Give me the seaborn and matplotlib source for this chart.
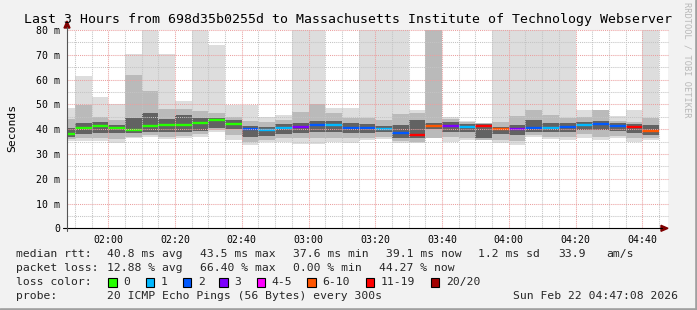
import numpy as np
import matplotlib
matplotlib.use("Agg")
import matplotlib.pyplot as plt
import seaborn as sns
from matplotlib.patches import Rectangle, Polygon
from matplotlib.lines import Line2D

# ---------------- data ----------------
bar_start_min = 105          # first 5-minute bar starts 01:45 (minutes after midnight)
bar_minutes = 5

median_ms = [38.2, 40.5, 41.4, 40.6, 39.8, 41.3, 41.7, 41.7, 42.3, 43.5,
             42.1, 40.1, 39.8, 40.6, 40.9, 41.7, 41.7, 40.6, 40.6, 40.2,
             38.6, 37.6, 41.4, 41.4, 41.0, 41.4, 40.2, 40.2, 40.6, 40.6,
             40.9, 41.8, 42.2, 41.4, 40.9, 39.1]

loss_class = ["0", "0", "0", "0", "0", "0", "0", "0", "0", "0",
              "0", "2", "1", "1", "3", "2", "1", "2", "2", "1",
              "2", "11-19", "6-10", "3", "1", "11-19", "6-10", "3", "2", "1",
              "2", "1", "2", "2", "11-19", "6-10"]

ping_max = [48.4, 61.4, 52.9, 50.0, 70.2, 80.0, 70.2, 51.3, 80.0, 73.9,
            49.7, 49.7, 44.9, 45.7, 80.0, 80.0, 48.4, 48.7, 80.0, 80.0,
            80.0, 47.7, 80.0, 45.0, 43.4, 42.6, 80.0, 80.0, 80.0, 80.0,
            80.0, 47.7, 47.7, 45.3, 47.7, 80.0]
ping_hi_mid = [44.0, 49.7, 45.0, 43.5, 62.0, 55.4, 48.0, 48.0, 47.3, 46.7,
               45.0, 43.3, 43.0, 43.7, 47.0, 50.0, 46.4, 44.6, 44.4, 43.7,
               46.0, 46.5, 80.0, 44.0, 42.8, 42.3, 43.0, 45.4, 47.7, 45.7,
               44.4, 45.0, 47.7, 43.3, 43.0, 44.6]
ping_hi_core = [40.3, 42.5, 42.8, 41.8, 44.4, 46.4, 44.0, 45.7, 44.4, 44.5,
                43.7, 41.4, 41.0, 41.9, 42.3, 43.3, 43.3, 42.3, 41.9, 41.4,
                41.7, 43.7, 42.3, 42.7, 41.9, 41.9, 41.0, 41.7, 43.7, 42.3,
                42.3, 43.0, 43.3, 42.3, 41.9, 41.7]
ping_lo_core = [37.0, 38.0, 38.5, 38.5, 38.3, 38.8, 38.7, 39.0, 39.2, 40.5,
                39.9, 37.0, 37.4, 37.9, 38.3, 39.0, 38.7, 38.3, 38.3, 38.7,
                36.6, 36.6, 39.9, 39.0, 38.7, 36.6, 37.9, 37.6, 39.0, 38.7,
                39.0, 39.7, 39.7, 39.2, 38.3, 37.6]
ping_lo_mid = [36.0, 36.6, 36.5, 36.0, 37.0, 37.8, 37.0, 37.3, 38.0, 39.5,
               37.6, 35.0, 35.6, 36.3, 36.3, 36.6, 36.6, 36.6, 36.6, 37.0,
               35.2, 35.0, 36.3, 37.0, 36.6, 35.6, 35.6, 35.2, 37.6, 37.0,
               37.0, 37.9, 37.0, 37.4, 36.6, 36.6]
ping_min = [35.2, 35.2, 35.2, 34.5, 36.3, 37.0, 35.9, 36.5, 37.0, 38.7,
            35.6, 33.6, 35.0, 35.0, 33.9, 33.9, 35.0, 34.3, 35.6, 35.9,
            34.5, 34.5, 36.3, 35.0, 35.6, 35.6, 34.3, 33.6, 37.0, 36.0,
            35.6, 36.3, 35.6, 36.3, 35.0, 35.6]

loss_labels = ["0", "1", "2", "3", "4-5", "6-10", "11-19", "20/20"]
loss_colors = ["#26ff00", "#00b8ff", "#0059ff", "#7e00ff", "#ff00ff",
               "#ff5500", "#ff0000", "#a10000"]

x_tick_minutes = [120, 140, 160, 180, 200, 220, 240, 260, 280]
x_tick_labels = ["02:00", "02:20", "02:40", "03:00", "03:20", "03:40",
                 "04:00", "04:20", "04:40"]
y_ticks = [0, 10, 20, 30, 40, 50, 60, 70, 80]
y_tick_labels = ["0", "10 m", "20 m", "30 m", "40 m", "50 m", "60 m",
                 "70 m", "80 m"]

title = "Last 3 Hours from 698d35b0255d to Massachusetts Institute of Technology Webserver"
rtt_stats = ["40.8 ms avg", "43.5 ms max", "37.6 ms min", "39.1 ms now",
             "1.2 ms sd", "33.9", "am/s"]
loss_stats = ["12.88 % avg", "66.40 % max", "0.00 % min", "44.27 % now"]
probe_text = "20 ICMP Echo Pings (56 Bytes) every 300s"
stamp_text = "Sun Feb 22 04:47:08 2026"

# ---------------- style ----------------
W, H = 697, 310
sns.set_theme(style="white")
plt.rcParams['font.family'] = ['DejaVu Sans Mono', 'DejaVu Sans']
plt.rcParams['lines.scale_dashes'] = False

fig = plt.figure(figsize=(W / 100, H / 100), dpi=100, facecolor="#f2f2f2")


def fx(x):
    return x / W


def fy(y):
    return 1 - y / H


ax_left, ax_right, ax_top, ax_bot = 67, 668, 30, 228.3
ax = fig.add_axes([fx(ax_left), fy(ax_bot), (ax_right - ax_left) / W,
                   (ax_bot - ax_top) / H])
ax.set_facecolor("white")
ax.set_xlim(107.63, 287.7)
ax.set_ylim(0, 80)

edges = bar_start_min + bar_minutes * np.arange(len(median_ms) + 1)


def stepy(a):
    a = np.asarray(a, dtype=float)
    return np.append(a, a[-1])


layers = [(ping_min, ping_max, "#dddddd"),
          (ping_lo_mid, ping_hi_mid, "#bababa"),
          (ping_lo_core, ping_hi_core, "#626262")]
for lo, hi, col in layers:
    ax.fill_between(edges, stepy(lo), stepy(hi), step="post", color=col,
                    lw=0, zorder=1, antialiased=False)

cmap = dict(zip(loss_labels, loss_colors))
ax.hlines(median_ms, edges[:-1], edges[1:],
          colors=[cmap[c] for c in loss_class], lw=1.7, zorder=3,
          capstyle="butt")

# grid (drawn above the smoke, as rrdtool does)
dot = (0, (0.75, 0.75))
for m in range(110, 290, 5):
    major = m in x_tick_minutes
    ax.axvline(m, color="#eba0a0" if major else "#c4c4c4", lw=0.75,
               ls=dot, zorder=4)
for v in range(5, 81, 5):
    major = v % 10 == 0
    ax.axhline(v, color="#eba0a0" if major else "#c4c4c4", lw=0.75,
               ls=dot, zorder=4, clip_on=False)

for s in ax.spines.values():
    s.set_visible(False)

ax.set_xticks(x_tick_minutes)
ax.set_xticklabels(x_tick_labels)
ax.set_yticks(y_ticks)
ax.set_yticklabels(y_tick_labels)
ax.tick_params(axis="both", which="both", labelsize=7.1, colors="#000000",
               length=2.5, width=0.7, direction="out", pad=2.6)
ax.tick_params(axis="x", pad=2.0)
ax.grid(False)

# axis lines with arrows
fig.add_artist(Line2D([fx(62.7), fx(662)], [fy(228.3), fy(228.3)],
                      color="black", lw=0.8, transform=fig.transFigure))
fig.add_artist(Line2D([fx(67), fx(67)], [fy(231), fy(27)],
                      color="#555555", lw=0.8, transform=fig.transFigure))
fig.add_artist(Polygon([(fx(661), fy(225.3)), (fx(668), fy(228.3)),
                        (fx(661), fy(231.3))], closed=True,
                       color="#7f0000", transform=fig.transFigure))
fig.add_artist(Polygon([(fx(64), fy(28)), (fx(67), fy(21)),
                        (fx(70), fy(28))], closed=True,
                       color="#7f0000", transform=fig.transFigure))

# titles
fig.text(fx(348.5), fy(19.3), title, ha="center", va="center",
         fontsize=9.55, color="black")
fig.text(fx(12), fy(128), "Seconds", rotation=90, ha="center",
         va="center", fontsize=8.2, color="black")
fig.text(fx(687.5), fy(60), "RRDTOOL / TOBI OETIKER", rotation=270,
         ha="center", va="center", fontsize=6.2, color="#b8b8b8")

# legend block
fs = 8.2
r1, r2, r3, r4 = 254.3, 268.3, 282.3, 296.0
fig.text(fx(16), fy(r1), "median rtt:", ha="left", va="center", fontsize=fs)
for s, x in zip(rtt_stats, [107.3, 200, 293.3, 386, 478.3, 558.3, 606.7]):
    fig.text(fx(x), fy(r1), s, ha="left", va="center", fontsize=fs)
fig.text(fx(16), fy(r2), "packet loss:", ha="left", va="center", fontsize=fs)
for s, x in zip(loss_stats, [107.3, 200, 293.3, 379.3]):
    fig.text(fx(x), fy(r2), s, ha="left", va="center", fontsize=fs)
fig.text(fx(16), fy(r3), "loss color:", ha="left", va="center", fontsize=fs)
box_x = [108.3, 145.7, 182.7, 219.3, 256.7, 307.3, 366.0, 430.7]
for lab, col, bx in zip(loss_labels, loss_colors, box_x):
    fig.add_artist(Rectangle((fx(bx), fy(286.7)), 8.3 / W, 9 / H,
                             facecolor=col, edgecolor="black", lw=0.8,
                             transform=fig.transFigure))
    fig.text(fx(bx + 15), fy(r3), lab, ha="left", va="center", fontsize=fs)
fig.text(fx(16), fy(r4), "probe:", ha="left", va="center", fontsize=fs)
fig.text(fx(107.3), fy(r4), probe_text, ha="left", va="center", fontsize=fs)
fig.text(fx(513.3), fy(r4), stamp_text, ha="left", va="center", fontsize=fs)

# 3-D frame edges
fig.add_artist(Line2D([0, 1], [fy(308.8), fy(308.8)], color="#a0a0a0",
                      lw=1.9, transform=fig.transFigure))
fig.add_artist(Line2D([fx(695.8), fx(695.8)], [0, 1], color="#a0a0a0",
                      lw=1.9, transform=fig.transFigure))

fig.savefig("out.png", dpi=100, facecolor=fig.get_facecolor())
